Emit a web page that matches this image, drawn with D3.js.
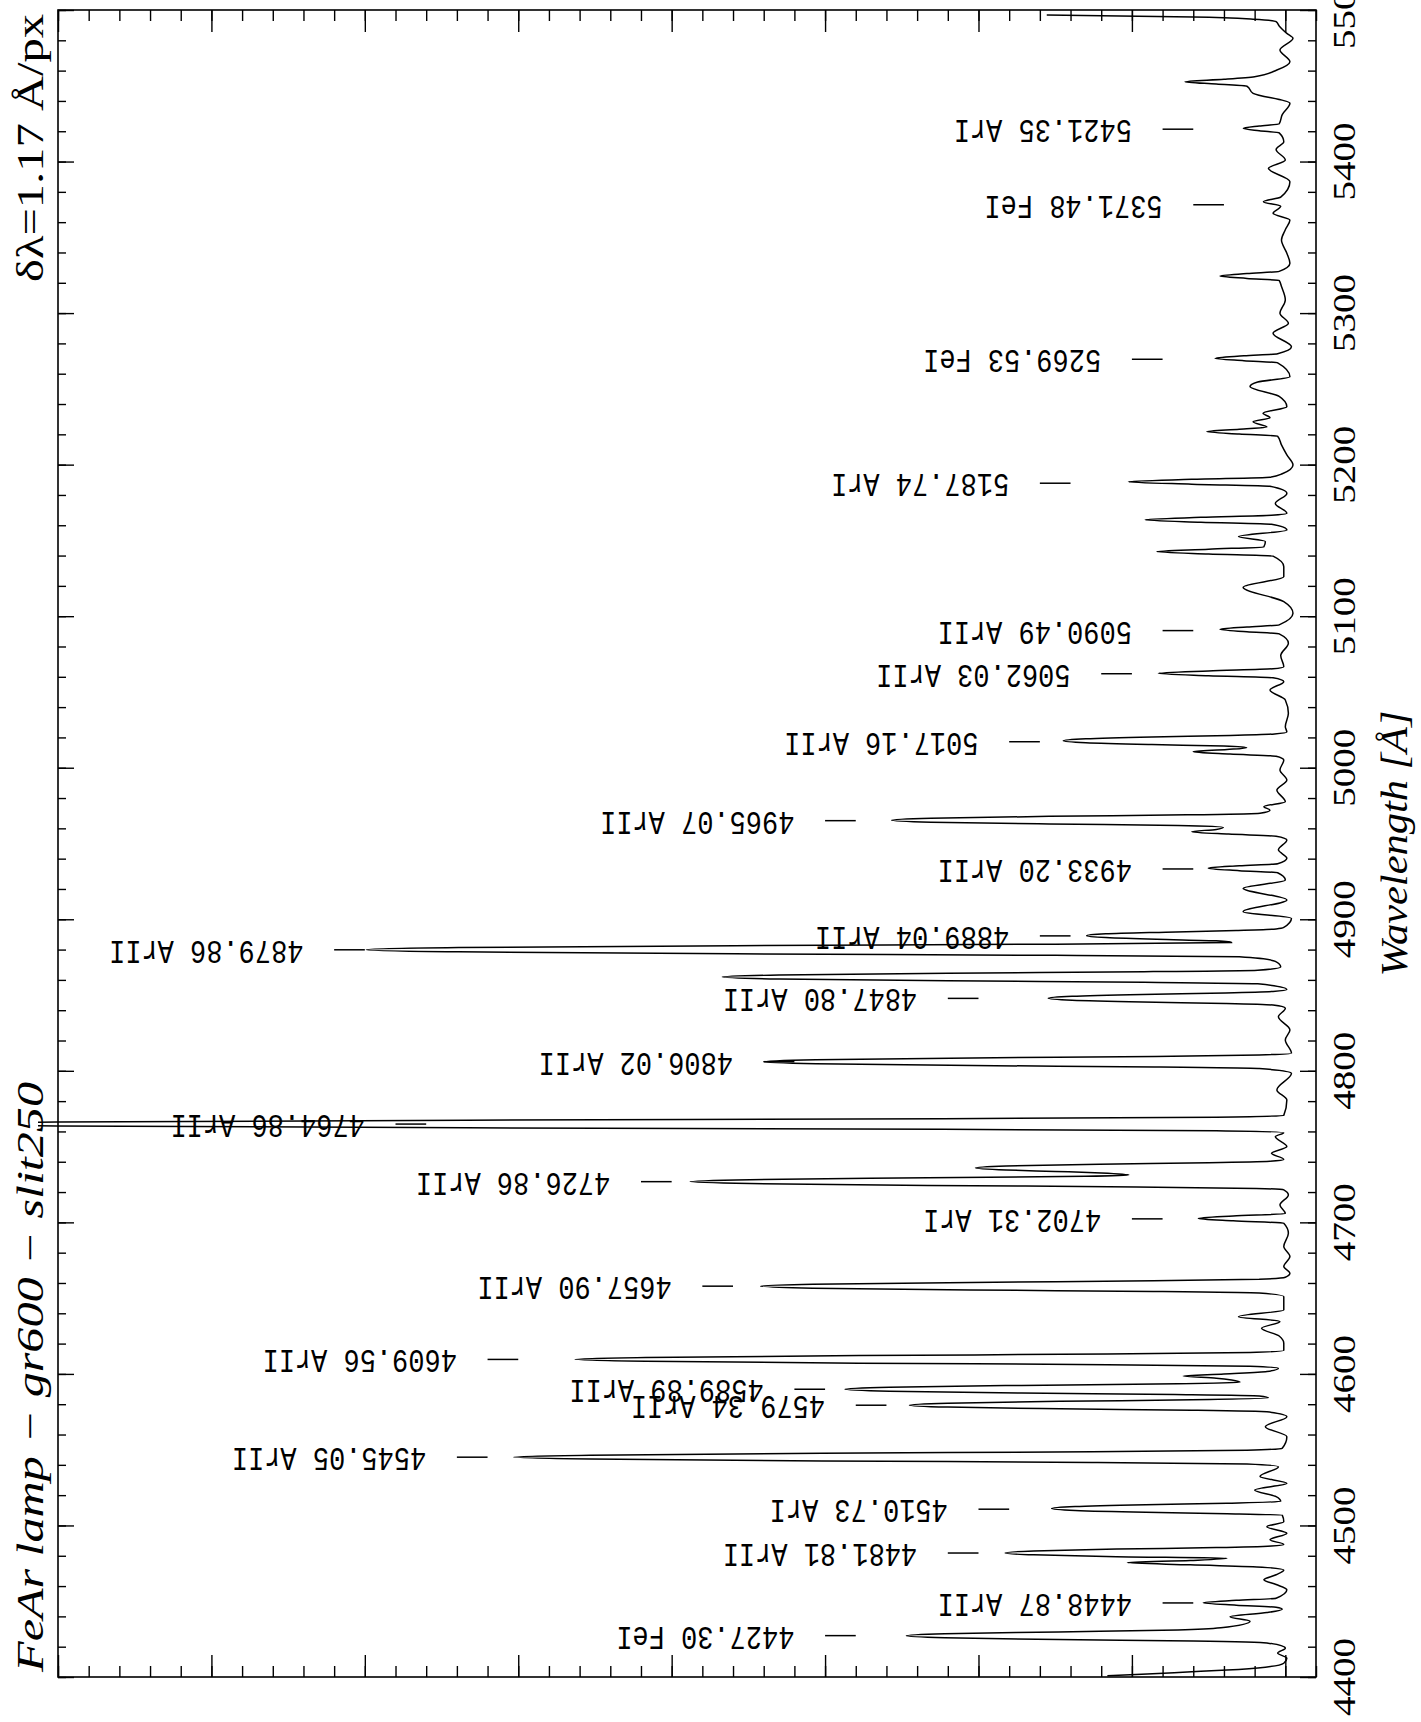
<!DOCTYPE html>
<html>
<head>
<meta charset="utf-8">
<script src="https://cdn.jsdelivr.net/npm/d3@7"></script>
<style>
  body { margin: 0; background: #fff; }
  svg { display: block; }
</style>
</head>
<body>
<div id="chart"></div>
<script>
'use strict'

////////////////////////////////////////
//////////////// Data //////////////////
////////////////////////////////////////

// [wavelength (A), counts]
const spectrum = [
  [4400.9,1160],[4402.0,900],[4403.3,640],[4404.6,380],[4406.5,130],[4409.1,10],[4412.4,-10],[4415.8,50],[4419.0,0],
  [4422.5,120],[4423.7,600],[4424.7,1480],[4425.9,2220],[4427.2,2470],[4428.5,2220],[4429.7,1480],[4431.0,700],[4432.5,420],[4436.8,230],[4439.8,360],[4442.5,120],[4444.7,20],
  [4446.0,60],[4447.4,320],[4449.0,535],[4450.6,320],[4452.0,60],[4457.5,-10],[4461.0,60],[4464.1,140],[4467.5,60],[4470.6,10],
  [4472.5,150],[4474.0,620],[4475.5,1030],[4476.9,620],[4478.3,380],[4479.4,1100],[4480.6,1640],[4481.9,1827],[4483.2,1640],[4484.4,1100],[4485.4,450],[4486.5,90],[4487.5,10],
  [4490.5,100],[4494.9,-10],[4499.2,120],[4502.5,10],
  [4506.8,20],[4507.8,380],[4508.7,910],[4509.9,1370],[4511.2,1523],[4512.5,1370],[4513.7,910],[4514.7,380],[4515.8,30],
  [4519.0,60],[4523.4,200],[4527.8,-10],[4532.3,165],[4538.8,45],
  [4540.6,250],[4541.6,1260],[4542.6,3020],[4543.8,4530],[4545.1,5030],[4546.4,4530],[4547.6,3020],[4548.6,1260],[4549.6,250],[4551.0,20],
  [4558.6,-10],[4565.2,130],[4571.8,-10],
  [4575.0,120],[4576.0,610],[4577.0,1470],[4578.1,2200],[4579.4,2450],[4580.7,2200],[4581.9,1470],[4582.9,610],[4584.2,110],[4585.5,170],
  [4586.4,720],[4587.4,1720],[4588.6,2580],[4589.9,2870],[4591.2,2580],[4592.4,1720],[4593.5,700],[4594.5,295],
  [4596.0,350],[4597.2,450],[4598.6,665],[4600.0,400],[4601.6,120],[4603.7,45],
  [4605.1,230],[4606.1,1160],[4607.1,2780],[4608.3,4170],[4609.6,4630],[4610.9,4170],[4612.1,2780],[4613.1,1160],[4614.1,230],[4615.5,10],
  [4620.2,10],[4625.0,40],[4630.1,155],[4634.6,35],[4637.8,305],[4642.2,10],[4651.0,10],
  [4653.4,170],[4654.4,860],[4655.4,2050],[4656.6,3080],[4657.9,3420],[4659.2,3080],[4660.4,2050],[4661.4,860],[4662.4,170],[4663.8,0],
  [4666.4,-30],[4670.8,10],[4677.4,-30],[4684.0,10],[4692.8,-20],[4699.4,10],
  [4701.0,340],[4702.6,567],[4704.2,340],[4705.8,0],[4711.5,35],[4718.1,-20],[4721.5,10],
  [4722.4,190],[4723.4,970],[4724.4,2330],[4725.6,3490],[4726.9,3880],[4728.2,3490],[4729.4,2330],[4730.4,1300],[4731.3,1020],
  [4732.6,1200],[4733.6,1500],[4734.6,1820],[4735.9,2020],[4737.2,1820],[4738.4,1210],[4739.4,500],[4740.4,100],[4741.5,10],
  [4745.6,90],[4750.0,-10],[4756.6,65],[4759.2,10],
  [4760.4,450],[4761.4,2230],[4762.4,5340],[4763.6,8010],[4764.9,8900],[4766.2,8010],[4767.4,5340],[4768.4,2230],[4769.4,450],[4770.6,10],
  [4780.8,-10],[4787.4,55],[4798.4,-40],
  [4801.5,170],[4802.5,850],[4803.5,2040],[4804.7,3060],[4806.0,3400],[4807.3,3060],[4808.5,2040],[4809.5,850],[4810.5,170],[4811.6,-40],
  [4820.4,0],[4827.0,-30],[4835.7,45],[4841.3,0],
  [4843.4,80],[4844.4,390],[4845.4,930],[4846.6,1390],[4847.9,1545],[4849.2,1390],[4850.4,930],[4851.4,390],[4852.4,80],[4853.6,-10],
  [4857.4,180],[4858.4,920],[4859.4,2200],[4860.6,3300],[4861.9,3670],[4863.2,3300],[4864.4,2200],[4865.4,920],[4866.4,180],[4868.5,30],[4872.2,65],
  [4875.2,300],[4876.2,1500],[4877.2,3590],[4878.5,5390],[4879.9,5990],[4881.3,5390],[4882.6,3590],[4883.6,1500],[4884.6,350],
  [4885.8,450],[4886.8,840],[4888.0,1170],[4889.2,1295],[4890.4,1170],[4891.5,780],[4892.6,320],[4893.6,60],[4894.6,10],
  [4900.6,-40],[4905.0,275],[4912.7,-10],[4920.4,275],[4925.9,0],
  [4930.7,50],[4932.1,300],[4933.7,502],[4935.3,300],[4936.7,50],[4940.3,-10],[4945.8,45],[4952.3,-10],
  [4954.8,60],[4956.2,370],[4957.8,610],[4959.3,450],[4960.7,404],
  [4961.9,700],[4962.9,1540],[4964.1,2310],[4965.4,2566],[4966.7,2310],[4967.9,1540],[4968.9,640],[4970.0,165],[4972.0,100],[4974.3,140],
  [4977.6,0],[4985.3,55],[4991.9,-10],[4998.5,35],[5005.1,10],
  [5007.6,60],[5009.0,360],[5010.6,600],[5012.0,380],[5013.2,252],
  [5014.3,400],[5015.3,870],[5016.5,1300],[5017.8,1447],[5019.1,1300],[5020.3,870],[5021.3,360],[5022.3,70],[5023.5,-10],
  [5027.1,0],[5035.9,-20],[5044.7,0],[5051.3,100],[5056.8,10],
  [5059.3,80],[5060.7,500],[5062.3,828],[5063.9,500],[5065.3,80],[5066.7,10],[5074.0,30],[5082.2,-20],
  [5088.3,40],[5089.7,250],[5091.3,426],[5092.9,250],[5094.3,40],[5101.9,-50],[5109.6,10],[5119.1,275],[5126.1,10],[5132.7,10],
  [5139.6,80],[5141.0,500],[5142.6,838],[5144.2,500],[5145.8,140],[5149.3,130],[5152.5,305],[5156.9,-10],
  [5160.6,90],[5162.0,550],[5163.6,914],[5165.2,550],[5166.6,90],[5167.9,-10],[5174.4,65],[5181.0,-10],
  [5185.7,100],[5187.1,610],[5188.7,1023],[5190.3,610],[5191.7,100],[5194.0,20],[5199.8,-50],[5206.4,-10],[5213.0,25],
  [5218.8,50],[5220.2,300],[5221.8,512],[5223.4,300],[5224.8,120],[5228.3,210],[5231.0,100],[5233.9,145],[5238.2,-10],[5245.0,40],[5251.5,230],[5254.5,180],[5258.0,-30],
  [5267.2,50],[5268.6,270],[5270.2,458],[5271.8,270],[5273.2,50],[5277.8,-40],[5286.7,80],[5293.3,-20],[5299.9,35],[5308.7,0],[5317.5,25],
  [5321.5,40],[5322.9,250],[5324.5,426],[5326.1,250],[5327.5,40],[5332.9,-30],[5339.5,-10],[5348.2,25],[5355.0,0],[5361.4,-30],[5365.8,80],
  [5370.5,30],[5373.5,143],[5376.5,30],[5386.7,-30],[5395.5,110],[5401.0,0],[5408.0,60],[5413.0,10],
  [5418.9,40],[5420.3,170],[5421.9,274],[5423.5,170],[5424.9,40],[5431.0,20],[5438.4,-30],[5445.0,210],
  [5449.7,250],[5451.1,450],[5452.7,654],[5454.3,400],[5456.0,200],[5460.4,55],[5465.9,-30],[5473.6,35],[5481.3,-50],[5484.6,-10],
  [5489.5,40],[5492.3,60],[5493.9,210],[5495.3,600],[5496.7,1555]
];

// identified lines
const lineWaves = [4427.30, 4448.87, 4481.81, 4510.73, 4545.05, 4579.34, 4589.89, 4609.56, 4657.90,
  4702.31, 4726.86, 4764.86, 4806.02, 4847.80, 4879.86, 4889.04, 4933.20, 4965.07, 5017.16,
  5062.03, 5090.49, 5187.74, 5269.53, 5371.48, 5421.35];
const lineIons = ["FeI", "ArII", "ArII", "ArI", "ArII", "ArII", "ArII", "ArII", "ArII",
  "ArI", "ArII", "ArII", "ArII", "ArII", "ArII", "ArII", "ArII", "ArII", "ArII",
  "ArII", "ArII", "ArI", "FeI", "FeI", "ArI"];
// counts level where each marker dash starts
const labelLevels = [2800, 600, 2000, 1800, 5200, 2600, 3000, 5000, 3600,
  800, 4000, 5600, 3200, 2000, 6000, 1400, 600, 2800, 1600,
  1000, 600, 1400, 800, 400, 600];

const waveMajor = d3.range(4400, 5501, 100);
const waveMinor = d3.range(4400, 5501, 20);
const countMajor = d3.range(0, 8001, 1000);
const countMinor = d3.range(-200, 8001, 200);

const titleText = "FeAr lamp \u2212 gr600 \u2212 slit250";
const dispersionText = "\u03b4\u03bb=1.17 \u00c5/px";
const axisTitle = "Wavelength [\u00c5]";

////////////////////////////////////////
/////////////// Options ////////////////
////////////////////////////////////////

let options = {
  width: 1421,
  height: 1722,
  left: 58,
  right: 1316,
  top: 10,
  bottom: 1677,
  stroke: "#000"
}

////////////////////////////////////////
////////////// SVG Setup ///////////////
////////////////////////////////////////

const svg = d3.select('#chart').append('svg')
  .attr('width', options.width)
  .attr('height', options.height)
  .style('background', '#fff');

const y = d3.scaleLinear().domain([4400, 5500]).range([options.bottom, options.top]);
const x = d3.scaleLinear().domain([-200, 8000]).range([options.right, options.left]);

svg.append('clipPath').attr('id', 'clip')
  .append('rect')
  .attr('x', 38).attr('y', 0)
  .attr('width', options.right - 38).attr('height', options.height);

////////////////////////////////////////
//////////////// Axes //////////////////
////////////////////////////////////////

function ticks(axis, values, size, tx, ty) {
  let g = svg.append('g')
    .attr('transform', `translate(${tx},${ty})`)
    .call(axis.tickValues(values).tickSize(size).tickFormat(''));
  g.select('.domain').remove();
  g.selectAll('line').attr('stroke', options.stroke).attr('stroke-width', 1.4);
}

ticks(d3.axisRight(y), waveMinor, 8, options.left, 0);
ticks(d3.axisRight(y), waveMajor, 16, options.left, 0);
ticks(d3.axisLeft(y), waveMinor, 8, options.right, 0);
ticks(d3.axisLeft(y), waveMajor, 16, options.right, 0);
ticks(d3.axisBottom(x), countMinor, 11, 0, options.top);
ticks(d3.axisBottom(x), countMajor, 22, 0, options.top);
ticks(d3.axisTop(x), countMinor, 11, 0, options.bottom);
ticks(d3.axisTop(x), countMajor, 22, 0, options.bottom);

svg.append('rect')
  .attr('x', options.left).attr('y', options.top)
  .attr('width', options.right - options.left)
  .attr('height', options.bottom - options.top)
  .attr('fill', 'none')
  .attr('stroke', options.stroke)
  .attr('stroke-width', 1.6);

// wavelength numbers, rotated to read upwards
svg.selectAll('.wave-label')
  .data(waveMajor)
  .join('text')
  .attr('transform', d => `translate(1355,${y(d)}) rotate(-90)`)
  .attr('text-anchor', 'middle')
  .attr('font-family', 'Liberation Serif')
  .attr('font-size', 32)
  .attr('textLength', 78)
  .attr('lengthAdjust', 'spacingAndGlyphs')
  .text(d => d)
  .classed('wave-label', true);

svg.append('text')
  .attr('transform', `translate(1407,${(options.top + options.bottom) / 2}) rotate(-90)`)
  .attr('text-anchor', 'middle')
  .attr('font-family', 'Liberation Serif')
  .attr('font-style', 'italic')
  .attr('font-size', 37)
  .attr('textLength', 266)
  .attr('lengthAdjust', 'spacingAndGlyphs')
  .text(axisTitle);

svg.append('text')
  .attr('transform', `translate(43,1672) rotate(-90)`)
  .attr('font-family', 'Liberation Serif')
  .attr('font-style', 'italic')
  .attr('font-size', 38)
  .attr('textLength', 590)
  .attr('lengthAdjust', 'spacingAndGlyphs')
  .text(titleText);

svg.append('text')
  .attr('transform', `translate(43,282) rotate(-90)`)
  .attr('font-family', 'Liberation Serif')
  .attr('font-size', 37)
  .attr('textLength', 268)
  .attr('lengthAdjust', 'spacingAndGlyphs')
  .text(dispersionText);

////////////////////////////////////////
////////////// Spectrum ////////////////
////////////////////////////////////////

const line = d3.line()
  .x(d => x(d[1]))
  .y(d => y(d[0]))
  .curve(d3.curveMonotoneY);

svg.append('path')
  .datum(spectrum.slice().reverse())
  .attr('d', line)
  .attr('fill', 'none')
  .attr('stroke', options.stroke)
  .attr('stroke-width', 1.5)
  .attr('clip-path', 'url(#clip)');

////////////////////////////////////////
/////////////// Labels /////////////////
////////////////////////////////////////

const labels = lineWaves.map((w, i) => ({
  wave: w,
  name: `${w.toFixed(2)} ${lineIons[i]}`,
  level: labelLevels[i]
}));

let marks = svg.selectAll('.line-mark')
  .data(labels)
  .join('g')
  .attr('transform', d => `translate(0,${y(d.wave)})`)
  .classed('line-mark', true);

marks.append('line')
  .attr('x1', d => x(d.level))
  .attr('x2', d => x(d.level + 200))
  .attr('stroke', options.stroke)
  .attr('stroke-width', 1.5);

// labels are written upside down
marks.append('text')
  .attr('transform', d => `translate(${x(d.level + 400)},0) rotate(180)`)
  .attr('dominant-baseline', 'central')
  .attr('font-family', 'Liberation Mono')
  .attr('font-size', 34)
  .attr('textLength', d => d.name.length * 16.2)
  .attr('lengthAdjust', 'spacingAndGlyphs')
  .text(d => d.name);
</script>
</body>
</html>
